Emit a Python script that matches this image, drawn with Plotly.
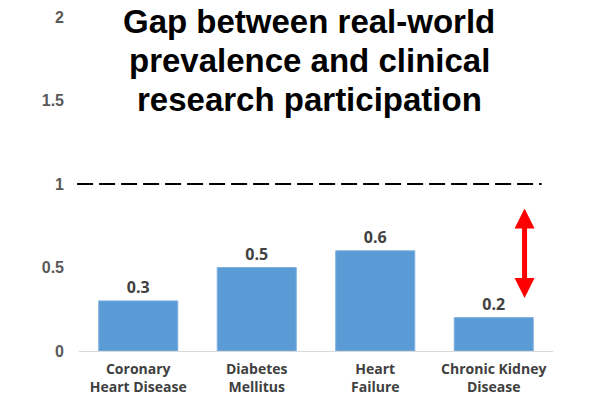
import plotly.graph_objects as go

categories = ["Coronary<br>Heart Disease", "Diabetes<br>Mellitus", "Heart<br>Failure", "Chronic Kidney<br>Disease"]
values = [0.3, 0.5, 0.6, 0.2]
value_labels = ["0.3", "0.5", "0.6", "0.2"]
y_tickvals = [0, 0.5, 1, 1.5, 2]
y_ticktext = ["0", "0.5", "1", "1.5", "2"]
reference_level = 1
gap_arrow_x = 3.26
gap_arrow_top = 0.862
gap_arrow_bottom = 0.317
title_lines = ["Gap between real-world", "prevalence and clinical", "research participation"]
title_line_y = [0.9865, 0.8698, 0.7530]

fig = go.Figure()
fig.add_trace(go.Bar(
    x=categories, y=values,
    text=value_labels, textposition="outside", cliponaxis=False,
    textfont=dict(family="Open Sans", size=16, color="#404040", weight="bold"),
    marker=dict(color="#5B9BD5", line=dict(color="#7FB0E0", width=1)),
    hoverinfo="skip",
))

fig.add_shape(type="line", xref="paper", yref="y", x0=-0.004, x1=0.976,
              y0=reference_level, y1=reference_level,
              line=dict(color="black", width=2, dash="16px,6px"))

fig.add_annotation(x=gap_arrow_x, y=gap_arrow_bottom, ax=gap_arrow_x, ay=gap_arrow_top,
                   xref="x", yref="y", axref="x", ayref="y", text="",
                   showarrow=True, arrowhead=2, startarrowhead=2, arrowside="end+start",
                   arrowsize=0.8, startarrowsize=0.8, arrowwidth=5, arrowcolor="#FF0000",
                   standoff=0, startstandoff=0)

for line, ly in zip(title_lines, title_line_y):
    fig.add_annotation(text=line, xref="paper", yref="paper", x=0.486, y=ly,
                       xanchor="center", yanchor="middle", showarrow=False,
                       font=dict(family="Liberation Sans, Arial", size=33, color="black", weight="bold"))

fig.update_layout(
    width=592, height=392,
    margin=dict(l=71, r=47, t=9, b=49),
    paper_bgcolor="white", plot_bgcolor="white",
    showlegend=False,
    bargap=0.333,
    xaxis=dict(showline=True, linecolor="#D9D9D9", linewidth=1, showgrid=False, automargin=False,
               tickfont=dict(family="Open Sans", size=14, color="#404040", weight="bold"),
               ticks="", ticklabelstandoff=5, fixedrange=True),
    yaxis=dict(range=[0, 2], tickvals=y_tickvals, ticktext=y_ticktext, showgrid=False, automargin=False,
               zeroline=False, showline=False, ticks="", ticklabelstandoff=14,
               tickfont=dict(family="Liberation Sans, Arial", size=16, color="#595959", weight="bold")),
)

fig.write_html("out.html")
